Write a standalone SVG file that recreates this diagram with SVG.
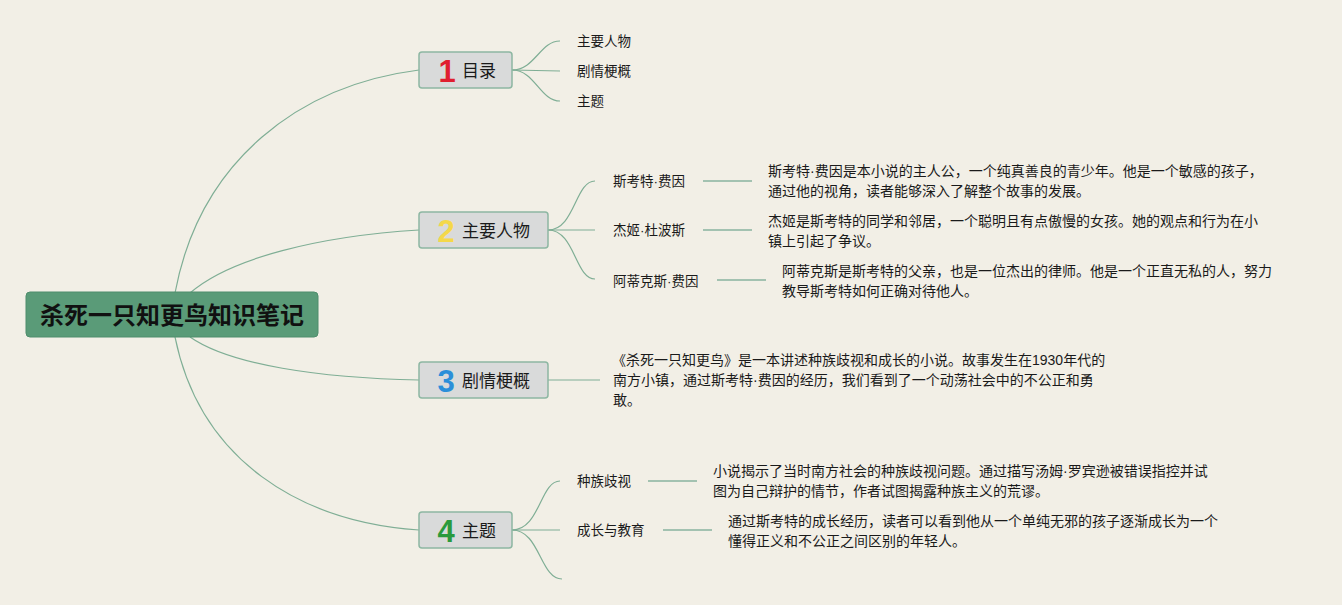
<svg xmlns="http://www.w3.org/2000/svg" width="1342" height="605" viewBox="0 0 1342 605">
<style>
text{font-family:"Liberation Sans","Noto Sans CJK SC",sans-serif;fill:#1a1a1a;dominant-baseline:central}
.curve{fill:none;stroke:#7fae95;stroke-width:1.2}
.bar{fill:none;stroke:#a3c2b1;stroke-width:2}
.main rect{fill:#d9dada;stroke:#8db7a2;stroke-width:1.5}
.num{font-family:"Liberation Sans",sans-serif;font-weight:bold;font-size:31px}
.mt{font-size:17px}
.lbl{font-size:13.5px}
.para{font-size:14px}
</style>
<rect width="1342" height="605" fill="#f2efe6"/>
<g id="connectors">
<path class="curve" d="M175,293 C200,160 300,85 419,70"/>
<path class="curve" d="M190,293 C230,258 320,236 419,230"/>
<path class="curve" d="M190,337 C230,365 320,378 419,380"/>
<path class="curve" d="M175,337 C200,460 300,522 419,530"/>
<path class="curve" d="M512,70 C535,70 540,41 560,41"/>
<path class="curve" d="M512,70 L560,71"/>
<path class="curve" d="M512,70 C535,70 540,101 560,101"/>
<path class="curve" d="M548,230 C575,230 575,181 595,181"/>
<path class="curve" d="M548,230 L595,230"/>
<path class="curve" d="M548,230 C575,230 575,279 595,279"/>
<path class="curve" d="M548,380 L600,380"/>
<path class="curve" d="M512,530 C540,530 540,481 560,481"/>
<path class="curve" d="M512,530 L560,530"/>
<path class="curve" d="M512,530 C540,530 540,579 562,579"/>
<path class="bar" d="M703,181 H752"/>
<path class="bar" d="M703,230 H752"/>
<path class="bar" d="M717,280 H766"/>
<path class="bar" d="M648,481 H697"/>
<path class="bar" d="M663,530 H712"/>
</g>
<g id="root">
<rect x="26" y="292" width="292" height="45" rx="4" fill="#5a9b78" stroke="#4f8d6c"/>
<text x="172" y="315" font-size="24" font-weight="bold" text-anchor="middle" style="fill:#111">杀死一只知更鸟知识笔记</text>
</g>
<g id="node1" class="main">
<rect x="419" y="52" width="93" height="36" rx="3"/>
<text class="num" x="447" y="71" text-anchor="middle" style="fill:#e01f2f">1</text>
<text class="mt" x="462" y="71">目录</text>
</g>
<g id="node1-1"><text class="lbl" x="577" y="41">主要人物</text></g>
<g id="node1-2"><text class="lbl" x="577" y="71">剧情梗概</text></g>
<g id="node1-3"><text class="lbl" x="577" y="101">主题</text></g>
<g id="node2" class="main">
<rect x="419" y="212" width="129" height="36" rx="3"/>
<text class="num" x="446" y="231" text-anchor="middle" style="fill:#f4d84a">2</text>
<text class="mt" x="462" y="231">主要人物</text>
</g>
<g id="node2-1">
<text class="lbl" x="613" y="181">斯考特·费因</text>
<text class="para" x="768" y="171">斯考特·费因是本小说的主人公，一个纯真善良的青少年。他是一个敏感的孩子，</text>
<text class="para" x="768" y="191">通过他的视角，读者能够深入了解整个故事的发展。</text>
</g>
<g id="node2-2">
<text class="lbl" x="613" y="230">杰姬·杜波斯</text>
<text class="para" x="768" y="221">杰姬是斯考特的同学和邻居，一个聪明且有点傲慢的女孩。她的观点和行为在小</text>
<text class="para" x="768" y="241">镇上引起了争议。</text>
</g>
<g id="node2-3">
<text class="lbl" x="613" y="281">阿蒂克斯·费因</text>
<text class="para" x="782" y="271">阿蒂克斯是斯考特的父亲，也是一位杰出的律师。他是一个正直无私的人，努力</text>
<text class="para" x="782" y="291">教导斯考特如何正确对待他人。</text>
</g>
<g id="node3" class="main">
<rect x="419" y="362" width="129" height="36" rx="3"/>
<text class="num" x="446" y="381" text-anchor="middle" style="fill:#2b8fd9">3</text>
<text class="mt" x="462" y="381">剧情梗概</text>
</g>
<g id="node3-1">
<text class="para" x="612" y="360">《杀死一只知更鸟》是一本讲述种族歧视和成长的小说。故事发生在1930年代的</text>
<text class="para" x="613" y="380">南方小镇，通过斯考特·费因的经历，我们看到了一个动荡社会中的不公正和勇</text>
<text class="para" x="613" y="400">敢。</text>
</g>
<g id="node4" class="main">
<rect x="419" y="512" width="93" height="36" rx="3"/>
<text class="num" x="446" y="531" text-anchor="middle" style="fill:#2a9a3c">4</text>
<text class="mt" x="462" y="531">主题</text>
</g>
<g id="node4-1">
<text class="lbl" x="577" y="481">种族歧视</text>
<text class="para" x="713" y="471">小说揭示了当时南方社会的种族歧视问题。通过描写汤姆·罗宾逊被错误指控并试</text>
<text class="para" x="713" y="491">图为自己辩护的情节，作者试图揭露种族主义的荒谬。</text>
</g>
<g id="node4-2">
<text class="lbl" x="577" y="530">成长与教育</text>
<text class="para" x="728" y="521">通过斯考特的成长经历，读者可以看到他从一个单纯无邪的孩子逐渐成长为一个</text>
<text class="para" x="728" y="541">懂得正义和不公正之间区别的年轻人。</text>
</g>
</svg>
